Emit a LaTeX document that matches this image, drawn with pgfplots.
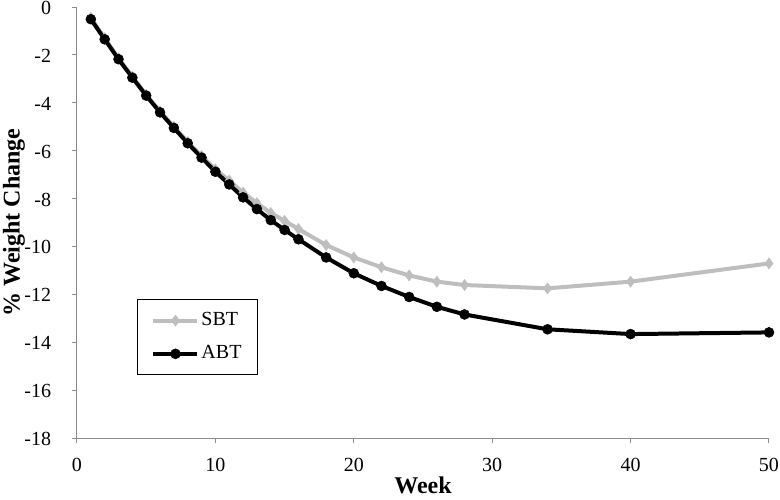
\documentclass[border=0pt]{standalone}
\usepackage{fontspec}
\setmainfont{Liberation Serif}
\usepackage{pgfplots}
\pgfplotsset{compat=1.18}
\definecolor{sbtgray}{RGB}{190,190,190}
\definecolor{axgray}{RGB}{140,140,140}
\begin{document}
\fontsize{20}{23}\selectfont
\begin{tikzpicture}
\useasboundingbox (-77pt,-61pt) rectangle (703pt,438pt);
\begin{axis}[
  scale only axis,
  width=692pt, height=431pt,
  at={(0,0)}, anchor=south west,
  xmin=0, xmax=50, ymin=-18, ymax=0,
  xtick={0,10,...,50}, ytick={-18,-16,...,0},
  axis x line*=bottom, axis y line*=left,
  axis line style={axgray, line width=1pt, -},
  tick align=outside,
  major tick length=5pt,
  tick style={axgray, line width=1pt},
  /pgf/number format/assume math mode=true,
  ticklabel style={font=\fontsize{20}{23}\selectfont},
  xticklabel style={yshift=-8pt},
  yticklabel style={xshift=-14pt, yshift=-1pt},
  xlabel={\textbf{Week}},
  ylabel={\textbf{\% Weight Change}},
  label style={font=\fontsize{24}{27}\selectfont},
  xlabel style={at={(axis description cs:0.5,0)}, anchor=north, yshift=-37pt, inner sep=2pt},
  ylabel style={at={(axis description cs:0,0.5)}, anchor=south, yshift=50pt, inner sep=2pt},
  legend style={at={(rel axis cs:0.0867,0.3225)}, anchor=north west,
    draw=black, line width=1pt, font=\fontsize{20}{23}\selectfont,
    inner xsep=14pt, inner ysep=11pt, row sep=13pt},
  legend cell align=left,
  legend image code/.code={%
    \draw[#1, line width=4pt, mark repeat=2, mark phase=2]
      plot coordinates {(0pt,0pt) (22pt,0pt) (44pt,0pt)};},
]
\addplot[sbtgray, line width=4pt, mark=diamond*, mark size=5.5pt, mark options={solid, fill=sbtgray, draw=sbtgray, line width=0.5pt}] coordinates {
(1,-0.45) (2,-1.30) (3,-2.14) (4,-2.91) (5,-3.66) (6,-4.36) (7,-5.00) (8,-5.63)
(9,-6.22) (10,-6.78) (11,-7.25) (12,-7.75) (13,-8.19) (14,-8.60) (15,-8.93) (16,-9.27)
(18,-9.94) (20,-10.46) (22,-10.87) (24,-11.21) (26,-11.47) (28,-11.61)
(34,-11.75) (40,-11.47) (50,-10.71)
};
\addlegendentry{SBT}
\addplot[black, line width=4pt, mark=*, mark size=5pt, mark options={solid, fill=black, line width=0.5pt}] coordinates {
(1,-0.51) (2,-1.35) (3,-2.18) (4,-2.95) (5,-3.70) (6,-4.40) (7,-5.05) (8,-5.69)
(9,-6.29) (10,-6.88) (11,-7.41) (12,-7.95) (13,-8.44) (14,-8.90) (15,-9.31) (16,-9.70)
(18,-10.46) (20,-11.12) (22,-11.65) (24,-12.11) (26,-12.52) (28,-12.84)
(34,-13.46) (40,-13.66) (50,-13.59)
};
\addlegendentry{ABT}
\end{axis}
\end{tikzpicture}
\end{document}
